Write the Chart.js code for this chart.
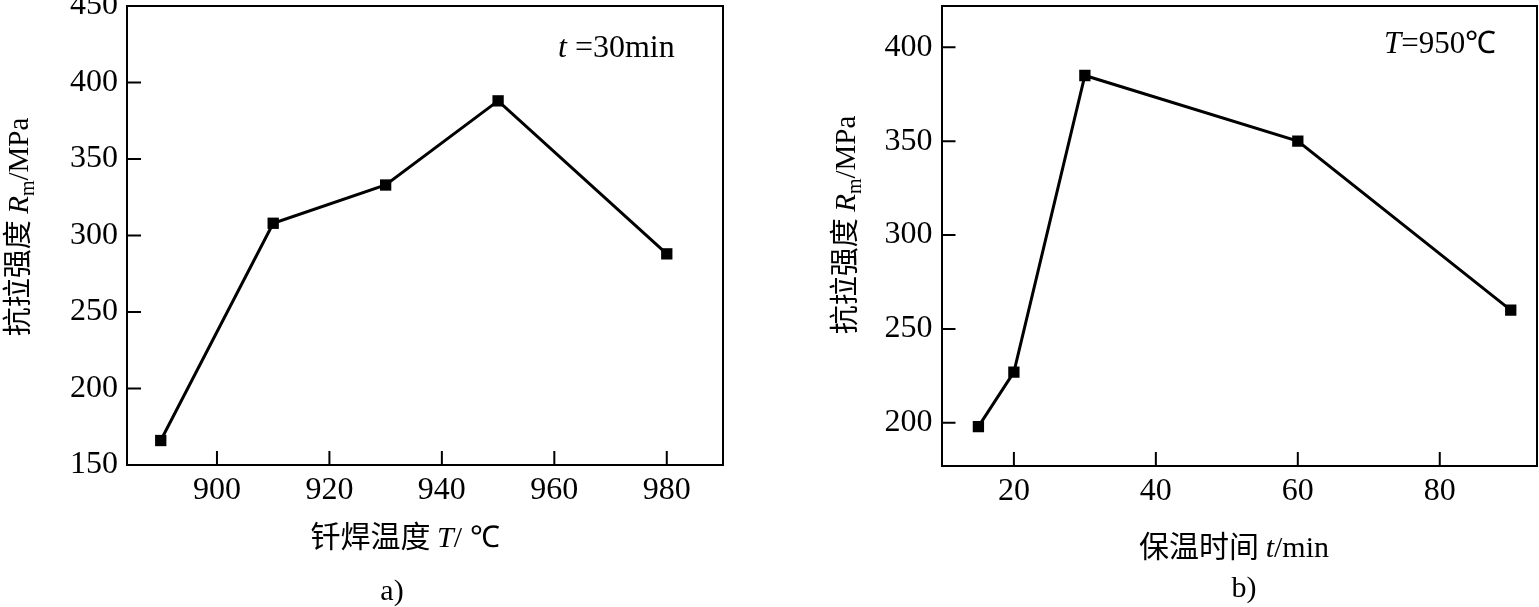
<!DOCTYPE html>
<html>
<head>
<meta charset="utf-8">
<script src="https://cdn.jsdelivr.net/npm/chart.js@4.4.1/dist/chart.umd.min.js"></script>
<style>
    body { margin: 0; background: #fff; }
    #lienzo { position: relative; width: 1539px; height: 607px; }
    .caja { position: absolute; top: 0; height: 607px; }
</style>
</head>
<body>
<div id="lienzo">
    <div class="caja" style="left:0;width:770px"><canvas id="graficaA"></canvas></div>
    <div class="caja" style="left:770px;width:769px"><canvas id="graficaB"></canvas></div>
</div>
<script>
// Datos a) temperatura de soldadura
const temperaturas = [890, 910, 930, 950, 980];
const resistenciaA = [166, 308, 333, 388, 288];
const ticksTemp = [900, 920, 940, 960, 980];
const ticksResA = [150, 200, 250, 300, 350, 400, 450];

// Datos b) tiempo de mantenimiento
const tiempos = [15, 20, 30, 60, 90];
const resistenciaB = [198, 227, 385, 350, 260];
const ticksTiempo = [20, 40, 60, 80];
const ticksResB = [200, 250, 300, 350, 400];

const serif = "'Liberation Serif', 'Times New Roman', serif";
const cjk = "'Noto Sans CJK SC', sans-serif";

// Dibuja un texto con partes de distinto estilo (cursiva, subíndice)
function dibujarTexto(ctx, piezas, x, y, alinear, angulo) {
    ctx.save();
    ctx.translate(x, y);
    ctx.rotate(angulo || 0);
    ctx.textAlign = "left";
    ctx.textBaseline = "alphabetic";
    ctx.fillStyle = "#000";
    let total = 0;
    piezas.forEach(p => { ctx.font = p.f; total += ctx.measureText(p.t).width; });
    let cx = alinear === "left" ? 0 : -total / 2;
    piezas.forEach(p => {
        ctx.font = p.f;
        ctx.fillText(p.t, cx, p.dy || 0);
        cx += ctx.measureText(p.t).width;
    });
    ctx.restore();
}

// Marco cerrado y marcas hacia dentro
const marco = {
    id: "marco",
    afterDatasetsDraw(chart) {
        const ctx = chart.ctx;
        const a = chart.chartArea;
        const x = chart.scales.x, y = chart.scales.y;
        ctx.save();
        ctx.strokeStyle = "#000";
        ctx.lineWidth = 2;
        ctx.beginPath();
        ctx.moveTo(a.left, a.top);
        ctx.lineTo(a.right, a.top);
        ctx.lineTo(a.right, a.bottom);
        x.ticks.forEach(t => {
            let px = x.getPixelForValue(t.value);
            ctx.moveTo(px, a.bottom);
            ctx.lineTo(px, a.bottom - 14);
        });
        y.ticks.forEach(t => {
            let py = y.getPixelForValue(t.value);
            ctx.moveTo(a.left, py);
            ctx.lineTo(a.left + 14, py);
        });
        ctx.stroke();
        ctx.restore();
    }
};

const textos = {
    id: "textos",
    afterDraw(chart, args, opts) {
        const ctx = chart.ctx;
        (opts.items || []).forEach(it => dibujarTexto(ctx, it.piezas, it.x, it.y, it.alinear, it.angulo));
    }
};

function tituloY() {
    return [
        { t: "抗拉强度 ", f: "29px " + cjk },
        { t: "R", f: "italic 29px " + serif },
        { t: "m", f: "20px " + serif, dy: 6 },
        { t: "/MPa", f: "29px " + serif }
    ];
}

function crearGrafica(id, xs, ys, cfg) {
    const ctx = document.getElementById(id).getContext("2d");
    return new Chart(ctx, {
        type: "line",
        data: {
            datasets: [{
                data: xs.map((v, i) => ({ x: v, y: ys[i] })),
                borderColor: "#000",
                borderWidth: 3,
                tension: 0,
                pointStyle: "rect",
                pointRadius: 8,
                pointBackgroundColor: "#000",
                pointBorderWidth: 0
            }]
        },
        options: {
            responsive: true,
            maintainAspectRatio: false,
            animation: false,
            layout: { autoPadding: false, padding: { left: 0, top: 6, right: cfg.derecha, bottom: 0 } },
            plugins: {
                legend: { display: false },
                tooltip: { enabled: false },
                textos: { items: cfg.textos }
            },
            scales: {
                x: {
                    type: "linear",
                    min: cfg.xmin,
                    max: cfg.xmax,
                    grid: { display: false, drawTicks: false },
                    border: { display: true, color: "#000", width: 2 },
                    ticks: { color: "#000", padding: 6, font: { family: serif, size: 32 } },
                    afterBuildTicks: s => { s.ticks = cfg.xticks.map(v => ({ value: v })); },
                    afterFit: s => { s.height = cfg.alturaX; s.paddingLeft = 0; s.paddingRight = 0; }
                },
                y: {
                    min: cfg.ymin,
                    max: cfg.ymax,
                    grid: { display: false, drawTicks: false },
                    border: { display: true, color: "#000", width: 2 },
                    ticks: { color: "#000", padding: 9, font: { family: serif, size: 32 } },
                    afterBuildTicks: s => { s.ticks = cfg.yticks.map(v => ({ value: v })); },
                    afterFit: s => { s.width = cfg.anchoY; s.paddingTop = 0; s.paddingBottom = 0; }
                }
            }
        },
        plugins: [marco, textos]
    });
}

crearGrafica("graficaA", temperaturas, resistenciaA, {
    xmin: 884, xmax: 990, ymin: 150, ymax: 450,
    xticks: ticksTemp, yticks: ticksResA,
    anchoY: 127, alturaX: 142, derecha: 47,
    textos: [
        { piezas: tituloY(), x: 28, y: 227, angulo: -Math.PI / 2 },
        { piezas: [{ t: "钎焊温度 ", f: "30px " + cjk }, { t: "T", f: "italic 30px " + serif }, { t: "/ ℃", f: "30px " + serif }], x: 405, y: 547 },
        { piezas: [{ t: "a)", f: "30px " + serif }], x: 392, y: 600 },
        { piezas: [{ t: "t", f: "italic 32px " + serif }, { t: " =30min", f: "32px " + serif }], x: 558, y: 57, alinear: "left" }
    ]
});

crearGrafica("graficaB", tiempos, resistenciaB, {
    xmin: 9.8, xmax: 93.7, ymin: 177, ymax: 422,
    xticks: ticksTiempo, yticks: ticksResB,
    anchoY: 171.5, alturaX: 141, derecha: 2,
    textos: [
        { piezas: tituloY(), x: 85, y: 225, angulo: -Math.PI / 2 },
        { piezas: [{ t: "保温时间 ", f: "30px " + cjk }, { t: "t", f: "italic 30px " + serif }, { t: "/min", f: "30px " + serif }], x: 464, y: 557 },
        { piezas: [{ t: "b)", f: "30px " + serif }], x: 474, y: 597 },
        { piezas: [{ t: "T", f: "italic 31px " + serif }, { t: "=950℃", f: "31px " + serif }], x: 614, y: 53, alinear: "left" }
    ]
});
</script>
</body>
</html>
